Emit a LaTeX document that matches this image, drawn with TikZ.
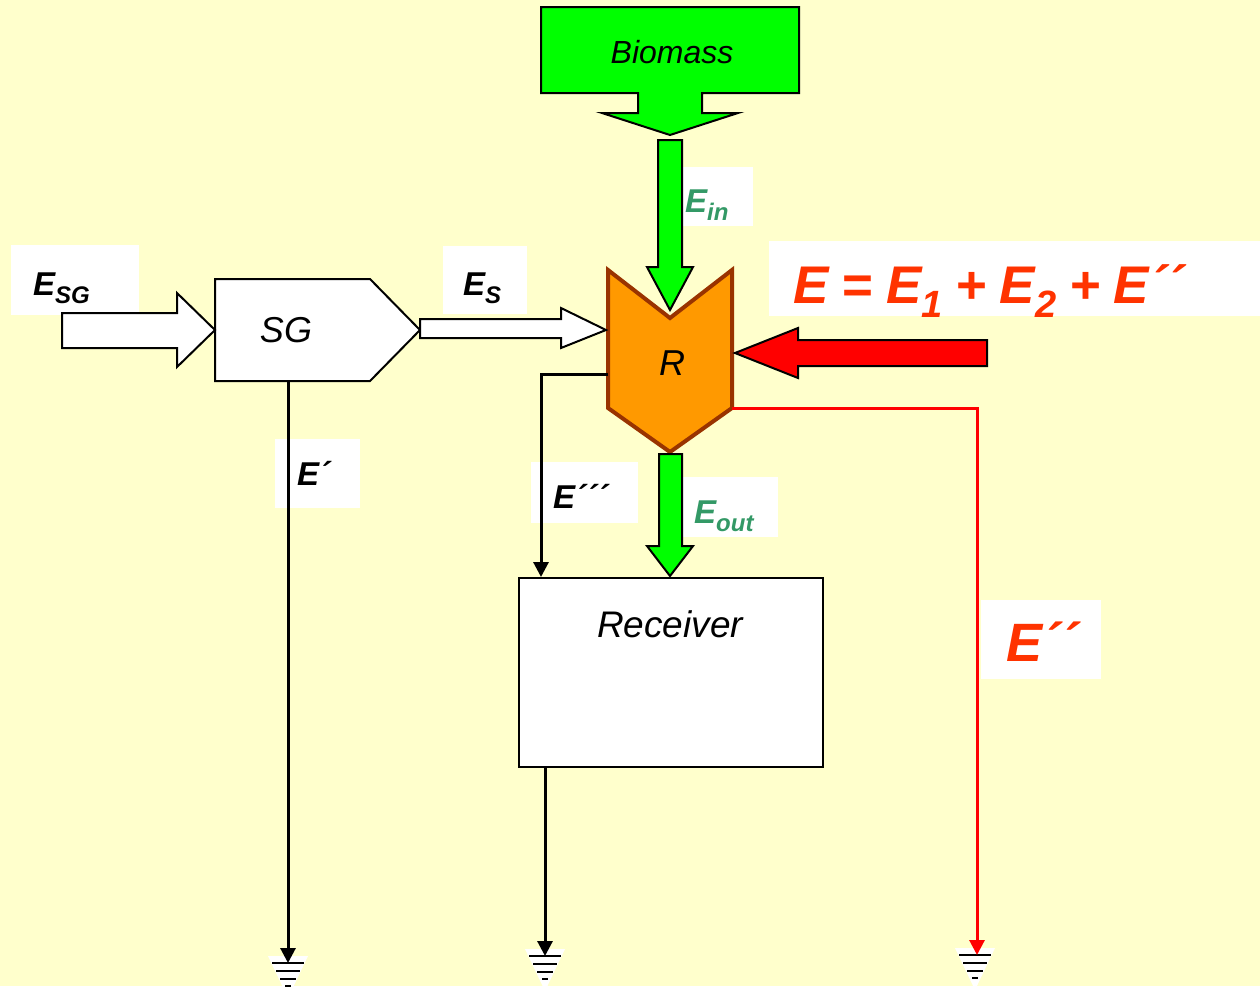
\documentclass[tikz,border=0pt]{standalone}
\usepackage{fontspec}
\setmainfont{Liberation Sans}
\usetikzlibrary{arrows.meta}
\definecolor{bgyellow}{HTML}{FFFFCC}
\definecolor{biogreen}{HTML}{00FF00}
\definecolor{rorange}{HTML}{FF9900}
\definecolor{rbrown}{HTML}{993300}
\definecolor{eqred}{HTML}{FF3300}
\definecolor{lblgreen}{HTML}{339966}
\newcommand\lowsub[2]{\raisebox{-0.27em}{\fontsize{#1}{#1}\selectfont #2}}
\newcommand\eqgap{\hspace{0.25em}}
\tikzset{
  shapeline/.style={draw=black, line width=2pt, line join=miter},
  conn/.style={line width=3pt, -{Triangle[length=15pt,width=15pt]}},
  lblbox/.style={fill=white},
  lbl/.style={anchor=base west, inner sep=0pt, font=\fontsize{33}{36}\selectfont\bfseries\itshape},
  boxtext/.style={anchor=base, inner sep=0pt, font=\fontsize{36}{40}\selectfont\itshape},
  gnd/.pic={
    \fill[white] (-20,0) -- (20,0) -- (0,42) -- cycle;
    \draw[line width=2.5pt] (-16,7) -- (16,7);
    \draw[line width=2.5pt] (-12,15) -- (12,15);
    \draw[line width=2.5pt] (-8,23) -- (8,23);
    \draw[line width=2.5pt] (-3,30) -- (3,30);
  }
}
\begin{document}
\begin{tikzpicture}[x=1pt,y=-1pt]
\useasboundingbox (0,0) rectangle (1260,986);
\fill[bgyellow] (0,0) rectangle (1260,986);

% white label boxes
\fill[lblbox] (11,245) rectangle (139,315);
\fill[lblbox] (443,246) rectangle (527,314);
\fill[lblbox] (683,167) rectangle (753,226);
\fill[lblbox] (769,241) rectangle (1260,316);
\fill[lblbox] (275,439) rectangle (360,508);
\fill[lblbox] (531,462) rectangle (638,523);
\fill[lblbox] (682,477) rectangle (778,537);
\fill[lblbox] (981,600) rectangle (1101,679);

% Biomass arrow
\filldraw[shapeline, fill=biogreen] (541,7) -- (799,7) -- (799,93) -- (702,93) -- (702,113) -- (738,113) -- (670,135) -- (602,113) -- (638,113) -- (638,93) -- (541,93) -- cycle;
\node[boxtext, font=\fontsize{32}{36}\selectfont\itshape] (bio) at (672,63) {Biomass};

% E_in arrow
\filldraw[shapeline, fill=biogreen] (658,140) -- (682,140) -- (682,267) -- (693,267) -- (670,310) -- (647,267) -- (658,267) -- cycle;

% Reactor R
\filldraw[draw=rbrown, line width=4pt, line join=miter, fill=rorange] (608,270) -- (670,318) -- (732,270) -- (732,408) -- (670,452) -- (608,408) -- cycle;
\node[boxtext] (r) at (672,375) {R};
\coordinate (rW) at (608,374);
\coordinate (rSE) at (732,408);

% red input arrow
\filldraw[shapeline, fill=red] (987,340) -- (798,340) -- (798,328) -- (735,353) -- (798,378) -- (798,366) -- (987,366) -- cycle;

% SG
\filldraw[shapeline, fill=white] (215,279) -- (370,279) -- (420,330) -- (370,381) -- (215,381) -- cycle;
\node[boxtext] (sg) at (286,342) {SG};
\coordinate (sgS) at (288,381);

% E_SG arrow
\filldraw[shapeline, fill=white] (62,313) -- (177,313) -- (177,293) -- (215,330) -- (177,367) -- (177,348) -- (62,348) -- cycle;
% E_S arrow
\filldraw[shapeline, fill=white] (420,319) -- (561,319) -- (561,308) -- (606,330) -- (561,348) -- (561,338) -- (420,338) -- cycle;

% E_out arrow
\filldraw[shapeline, fill=biogreen] (659,454) -- (682,454) -- (682,546) -- (693,546) -- (670,576) -- (647,546) -- (659,546) -- cycle;

% Receiver
\node[draw=black, line width=2pt, fill=white, minimum width=304pt, minimum height=189pt, anchor=north west, inner sep=0pt] (recv) at (518,577) {};
\node[boxtext, font=\fontsize{37}{40}\selectfont\itshape] (recvtxt) at (670,637) {Receiver};
\coordinate (recvS) at (545,766);

% grounds
\pic at (288,956) {gnd};
\pic at (545,949) {gnd};
\pic at (975,948) {gnd};
\coordinate (g1) at (288,963);
\coordinate (g2) at (545,956);
\coordinate (g3) at (977,955);
\coordinate (c3) at (541,374);
\coordinate (recvIn) at (541,577);
\coordinate (cr) at (977,408);

% connectors
\draw[conn] (sgS) -- (g1);
\draw[conn] (recvS) -- (g2);
\draw[conn] (rW) -- (c3) -- (recvIn);
\draw[conn, red] (rSE) -- (cr) -- (g3);

% labels
\node[lbl] (lsg) at (33,295) {E\lowsub{24}{SG}};
\node[lbl] (ls) at (463,295) {E\lowsub{24}{S}};
\node[lbl, text=lblgreen] (lin) at (685,212) {E\lowsub{24}{in}};
\node[lbl, text=lblgreen] (lout) at (694,523) {E\lowsub{24}{out}};
\node[lbl] (lp) at (297,485) {E´};
\node[lbl] (lppp) at (553,508) {E´´´};
\node[lbl, text=eqred, font=\fontsize{53}{60}\selectfont\bfseries\itshape] (eq) at (793,303) {E\eqgap=\eqgap E\lowsub{38}{1}\eqgap+\eqgap E\lowsub{38}{2}\eqgap+\eqgap E´´};
\node[lbl, text=eqred, font=\fontsize{54}{60}\selectfont\bfseries\itshape] (lpp) at (1006,661) {E´´};
\end{tikzpicture}
\end{document}
